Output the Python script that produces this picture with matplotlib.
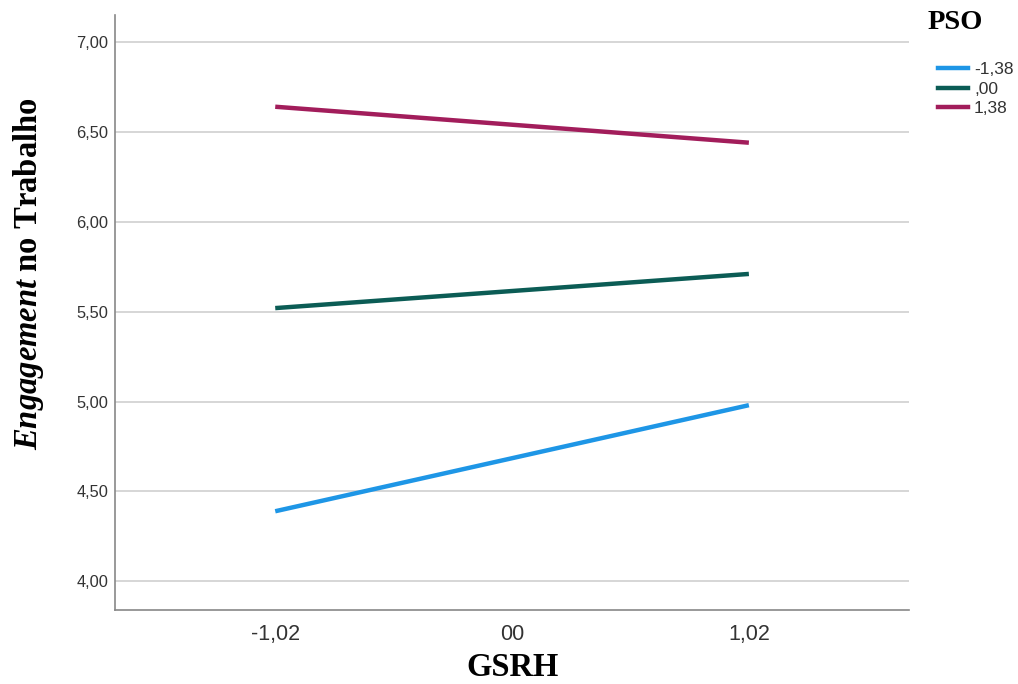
import matplotlib
matplotlib.use("Agg")
import matplotlib.pyplot as plt
from matplotlib.lines import Line2D

plt.rcParams["mathtext.fontset"] = "custom"
plt.rcParams["mathtext.bfit"] = "Liberation Serif:bold:italic"
plt.rcParams["mathtext.it"] = "Liberation Serif:bold:italic"
plt.rcParams["mathtext.rm"] = "Liberation Serif:bold"
plt.rcParams["mathtext.bf"] = "Liberation Serif:bold"

x_vals = [-1.02, 1.02]
x_ticklabels = ["-1,02", "00", "1,02"]
x_ticks = [-1.02, 0.0, 1.02]
series_names = ["-1,38", ",00", "1,38"]
low_pso = [4.39, 4.98]
mid_pso = [5.52, 5.71]
high_pso = [6.64, 6.44]
y_ticks = [4.0, 4.5, 5.0, 5.5, 6.0, 6.5, 7.0]
y_ticklabels = ["4,00", "4,50", "5,00", "5,50", "6,00", "6,50", "7,00"]

colors = ["#1e96e6", "#0b5c55", "#a21d5b"]

fig = plt.figure(figsize=(10.18, 6.84), dpi=100)
ax = fig.add_axes([0.113, 0.108, 0.780, 0.870])

for vals, c in zip([low_pso, mid_pso, high_pso], colors):
    ax.plot(x_vals, vals, color=c, lw=3.2, solid_capstyle="butt", zorder=3)

ax.set_xlim(-1.71, 1.71)
ax.set_ylim(3.84, 7.15)
ax.set_yticks(y_ticks)
ax.set_yticklabels(y_ticklabels)
ax.set_xticks(x_ticks)
ax.set_xticklabels(x_ticklabels)
ax.grid(axis="y", color="#d0d0d0", lw=1.2)
ax.set_axisbelow(True)
for s in ["top", "right"]:
    ax.spines[s].set_visible(False)
for s in ["left", "bottom"]:
    ax.spines[s].set_color("#888888")
    ax.spines[s].set_linewidth(1.2)
ax.tick_params(axis="y", length=0, pad=5, labelsize=11.8, labelcolor="#333333", labelfontfamily="Liberation Sans")
ax.tick_params(axis="x", length=0, pad=10, labelsize=15.5, labelcolor="#333333", labelfontfamily="Liberation Sans")

ax.set_xlabel("GSRH", fontfamily="Liberation Serif", fontweight="bold", fontsize=23.5, labelpad=5)
ax.set_ylabel(r"$\mathit{Engagement}$ no Trabalho", fontfamily="Liberation Serif", fontweight="bold", fontsize=23.5)
ax.yaxis.set_label_coords(-0.087, 0.565)

fig.text(0.938, 0.967, "PSO", ha="center", va="center", fontfamily="Liberation Serif",
         fontweight="bold", fontsize=20.5)

handles = [Line2D([0], [0], color=c, lw=3.2) for c in colors]
leg = fig.legend(handles, series_names, loc="upper left", bbox_to_anchor=(0.921, 0.909),
                 frameon=False, handlelength=1.75, handletextpad=0.35, labelspacing=0.25,
                 borderpad=0, borderaxespad=0,
                 prop={"family": "Liberation Sans", "size": 12.5})
for t in leg.get_texts():
    t.set_color("#333333")

fig.savefig("out.png", dpi=100)
